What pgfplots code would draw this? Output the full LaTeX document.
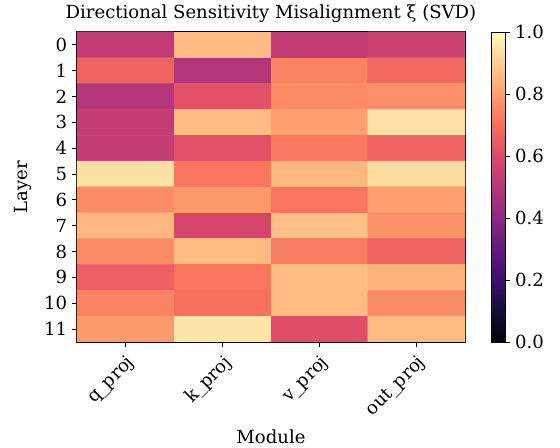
\documentclass[border=0pt]{standalone}
\usepackage{fontspec}
\setmainfont{DejaVu Serif}
\usepackage{pgfplots}
\pgfplotsset{compat=1.18}
\usepackage{pgfplotstable}

\pgfplotsset{
  colormap={magma}{
    rgb255=(0,0,4) rgb255=(20,14,54) rgb255=(59,15,112) rgb255=(100,26,128)
    rgb255=(140,41,129) rgb255=(183,55,121) rgb255=(222,73,104) rgb255=(247,112,92)
    rgb255=(254,159,109) rgb255=(254,207,146) rgb255=(252,253,191)
  }
}

% x = module, y = layer, c = misalignment
\pgfplotstableread{
x y c
0 0 0.53
1 0 0.86
2 0 0.53
3 0 0.56
0 1 0.67
1 1 0.49
2 1 0.74
3 1 0.68
0 2 0.49
1 2 0.62
2 2 0.76
3 2 0.77
0 3 0.53
1 3 0.86
2 3 0.80
3 3 0.94
0 4 0.53
1 4 0.62
2 4 0.72
3 4 0.67
0 5 0.94
1 5 0.71
2 5 0.85
3 5 0.93
0 6 0.76
1 6 0.79
2 6 0.71
3 6 0.80
0 7 0.85
1 7 0.58
2 7 0.87
3 7 0.77
0 8 0.76
1 8 0.86
2 8 0.73
3 8 0.67
0 9 0.66
1 9 0.71
2 9 0.86
3 9 0.84
0 10 0.74
1 10 0.70
2 10 0.86
3 10 0.76
0 11 0.79
1 11 0.95
2 11 0.61
3 11 0.86
}\xidata

\begin{document}
\begin{tikzpicture}
\begin{axis}[
  scale only axis,
  width=279.4pt, height=223.2pt,
  colormap name=magma,
  point meta min=0, point meta max=1,
  xmin=-0.5, xmax=3.5, ymin=-0.5, ymax=11.5,
  y dir=reverse,
  xtick={0,1,2,3},
  xticklabels={q\_proj,k\_proj,v\_proj,out\_proj},
  ytick={0,...,11},
  xtick pos=bottom, ytick pos=left,
  tick align=outside,
  major tick length=3.5pt,
  tick style={black, line width=0.6pt},
  axis line style={black, line width=0.8pt},
  x tick label style={rotate=45, anchor=north east, font=\fontsize{13}{15}\selectfont},
  y tick label style={font=\fontsize{13}{15}\selectfont},
  /pgf/number format/assume math mode=true,
  title={Directional Sensitivity Misalignment ξ (SVD)},
  title style={font=\fontsize{13}{15}\selectfont, yshift=-3pt},
  xlabel={Module}, ylabel={Layer},
  label style={font=\fontsize{13}{15}\selectfont},
  ylabel style={yshift=2pt},
  xlabel style={yshift=1pt},
  colorbar right,
  colorbar/width=10.3pt,
  colorbar style={
    at={(parent axis.north east)}, anchor=north west, xshift=10.2pt,
    ytick={0,0.2,0.4,0.6,0.8,1.0},
    ytick pos=right,
    yticklabel style={/pgf/number format/fixed, /pgf/number format/fixed zerofill,
      /pgf/number format/precision=1, /pgf/number format/assume math mode=true,
      font=\fontsize{13}{15}\selectfont},
    tick align=outside,
    major tick length=3.5pt,
    tick style={black, line width=0.6pt},
    axis line style={black, line width=0.6pt},
  },
]
\addplot[matrix plot*, mesh/cols=4, point meta=explicit] table[x=x, y=y, meta=c] {\xidata};
\end{axis}
\pgfresetboundingbox
\path ([xshift=-55.4pt, yshift=23pt]current axis.north west)
      rectangle ([xshift=68.4pt, yshift=-76.3pt]current axis.south east);
\end{tikzpicture}
\end{document}
